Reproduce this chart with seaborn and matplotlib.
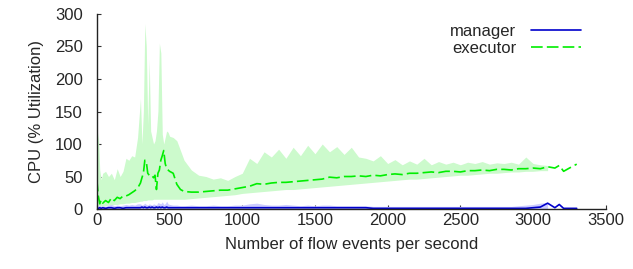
import numpy as np
import pandas as pd
import seaborn as sns
import matplotlib.pyplot as plt

# flow events per second (x axis)
events = [0, 10, 20, 30, 40, 60, 80, 100, 120, 140,
          160, 180, 200, 220, 240, 260, 280, 300, 310, 320,
          330, 340, 350, 360, 370, 380, 390, 400, 410, 420,
          430, 440, 450, 460, 470, 480, 490, 500, 525, 550,
          575, 600,
          650, 700, 750, 800, 850, 900, 950, 1000, 1050, 1100,
          1150, 1200, 1250, 1300, 1350, 1400, 1450, 1500, 1550, 1600,
          1650, 1700, 1750, 1800, 1850, 1900, 1950, 2000, 2050, 2100,
          2150, 2200, 2250, 2300, 2350, 2400, 2450, 2500, 2550, 2600,
          2650, 2700, 2750, 2800, 2850, 2900, 2950, 3000,
          3050, 3100, 3150, 3180, 3210, 3250, 3300]

# executor cpu: mean, lower and upper of band
exec_mean = [45, 20, 8, 14, 9, 13, 10, 17, 13, 18,
             16, 20, 20, 22, 25, 28, 32, 40, 48, 55,
             75, 73, 55, 52, 50, 51, 48, 52, 30, 55,
             60, 75, 82, 90, 70, 62, 60, 58, 55, 38,
             30, 27,
             26, 26, 27, 28, 29, 29, 31, 33, 35, 39,
             38, 40, 41, 41, 42, 43, 44, 45, 46, 49,
             48, 50, 50, 51, 50, 52, 51, 53, 54, 53,
             55, 55, 56, 57, 56, 58, 58, 57, 59, 59,
             60, 59, 61, 61, 60, 62, 62, 63,
             62, 65, 63, 67, 58, 63, 69]
exec_low = [5, 3, 3, 5, 4, 5, 6, 6, 7, 7,
            8, 8, 9, 9, 10, 10, 11, 12, 12, 13,
            13, 13, 14, 14, 14, 14, 15, 15, 15, 15,
            15, 15, 15, 15, 15, 15, 15, 15, 15, 15,
            15, 15,
            16, 17, 18, 19, 20, 21, 22, 24, 25, 26,
            27, 28, 29, 30, 30, 31, 32, 33, 34, 35,
            36, 37, 38, 39, 40, 41, 42, 43, 44, 45,
            46, 46, 47, 48, 49, 50, 51, 52, 52, 53,
            54, 55, 55, 56, 57, 57, 58, 58,
            59, 59, np.nan, np.nan, np.nan, np.nan, np.nan]
exec_high = [95, 117, 60, 45, 55, 58, 50, 55, 45, 62,
             50, 58, 78, 75, 82, 80, 110, 170, 100, 150,
             285, 250, 130, 230, 120, 110, 100, 105, 120, 150,
             255, 240, 115, 100, 110, 120, 118, 112, 110, 105,
             90, 75,
             60, 52, 50, 46, 48, 44, 50, 55, 78, 70,
             88, 80, 92, 78, 95, 82, 98, 85, 100, 88,
             96, 84, 95, 80, 78, 74, 82, 70, 76, 68,
             74, 69, 78, 68, 73, 69, 72, 68, 72, 70,
             73, 69, 71, 70, 72, 69, 80, 70,
             68, 67, np.nan, np.nan, np.nan, np.nan, np.nan]

# manager cpu: mean and upper of band
mgr_mean = [1, 1, 2, 1, 2, 1, 2, 2, 1, 2,
            2, 1, 2, 2, 2, 2, 2, 2, 3, 2,
            3, 2, 2, 3, 2, 3, 2, 2, 3, 2,
            3, 2, 3, 2, 2, 3, 2, 2, 2, 2,
            2, 2,
            2, 2, 2, 2, 2, 2, 2, 2, 2, 2,
            2, 2, 2, 2, 2, 2, 2, 2, 2, 2,
            2, 2, 2, 2, 2, 1, 1, 1, 1, 1,
            1, 1, 1, 1, 1, 1, 1, 1, 1, 1,
            1, 1, 1, 1, 1, 1, 1, 2,
            3, 9, 2, 7, 1, 1, 1]
mgr_high = [4, 5, 6, 4, 5, 4, 6, 7, 5, 6,
            5, 6, 7, 6, 7, 6, 8, 8, 6, 7,
            9, 7, 6, 8, 7, 6, 8, 7, 6, 10,
            9, 8, 11, 7, 8, 12, 8, 7, 6, 6,
            5, 5,
            6, 5, 5, 6, 5, 5, 6, 6, 8, 9,
            7, 6, 6, 7, 6, 5, 6, 5, 6, 6,
            5, 5, 5, 5, 5, 4, 4, 4, 4, 4,
            4, 4, 4, 4, 4, 4, 4, 4, 4, 4,
            4, 4, 4, 4, 4, 5, 6, 7,
            9, 10, np.nan, np.nan, np.nan, np.nan, np.nan]

df = pd.DataFrame({'events': events, 'manager': mgr_mean, 'executor': exec_mean})

sns.set_style('ticks')
plt.rcParams['font.family'] = ['Liberation Sans', 'DejaVu Sans']
plt.rcParams['xtick.direction'] = 'in'
plt.rcParams['ytick.direction'] = 'in'

fig, ax = plt.subplots(figsize=(6.33, 2.69), dpi=100)
fig.subplots_adjust(left=0.153, right=0.957, bottom=0.223, top=0.948)

green = '#00ee00'
blue = '#0000cc'

ax.fill_between(events, exec_low, exec_high, color='#ccfacc', lw=0)
ax.fill_between(events, np.zeros(len(events)), mgr_high, color='#ccccff', lw=0)

sns.lineplot(data=df, x='events', y='manager', ax=ax, color=blue, lw=1.2,
             label='manager')
sns.lineplot(data=df, x='events', y='executor', ax=ax, color=green, lw=1.2,
             dashes=False, label='executor')
ax.lines[-1].set_dashes([7, 2.5])

ax.set_xlim(0, 3500)
ax.set_ylim(0, 300)
ax.set_xticks(range(0, 3501, 500))
ax.set_yticks(range(0, 301, 50))
ax.tick_params(labelsize=12, length=3, color='#333333')
ax.tick_params(axis='y', pad=10)
ax.tick_params(axis='x', pad=3)
sns.despine(ax=ax)
for s in ['left', 'bottom']:
    ax.spines[s].set_linewidth(1.0)
    ax.spines[s].set_color('#222222')

ax.set_xlabel('Number of flow events per second', fontsize=12, labelpad=6)
ax.set_ylabel('CPU (% Utilization)', fontsize=12, labelpad=8)

ax.legend(loc='upper right', bbox_to_anchor=(0.965, 0.985), frameon=False,
          markerfirst=False, fontsize=12, handlelength=3.0, labelspacing=0.15,
          handletextpad=0.9, borderaxespad=0)

fig.savefig('out.png', dpi=100)
